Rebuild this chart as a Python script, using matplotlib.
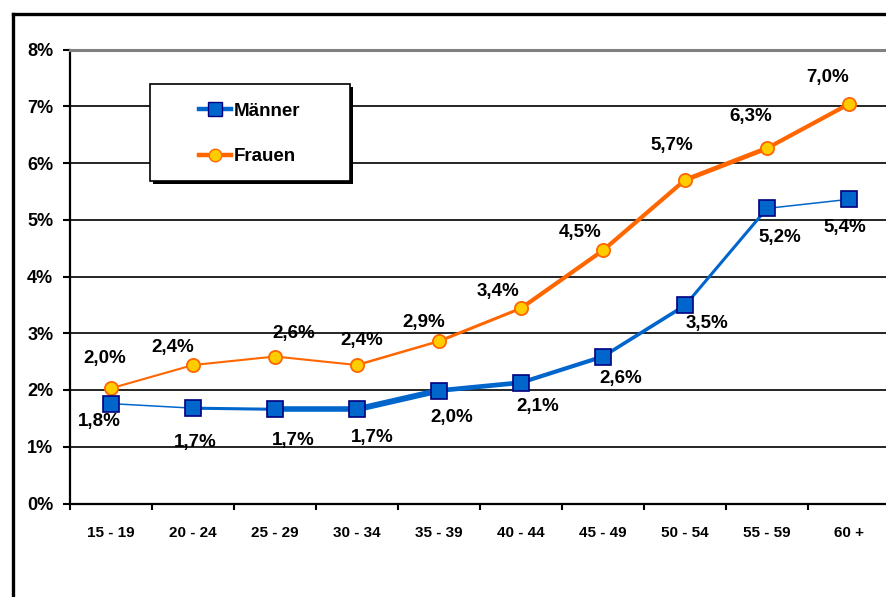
import matplotlib
matplotlib.use('Agg')
import matplotlib.pyplot as plt
from matplotlib.patches import Rectangle
from matplotlib.lines import Line2D

plt.rcParams['font.family'] = ['Liberation Sans', 'DejaVu Sans']
plt.rcParams['font.weight'] = 'bold'

# Altersgruppen und Anteile in %
age_groups = ['15 - 19', '20 - 24', '25 - 29', '30 - 34', '35 - 39',
              '40 - 44', '45 - 49', '50 - 54', '55 - 59', '60 +']
maenner = [1.76, 1.68, 1.66, 1.66, 1.99, 2.13, 2.59, 3.49, 5.20, 5.36]
frauen = [2.03, 2.44, 2.59, 2.44, 2.86, 3.44, 4.46, 5.70, 6.26, 7.04]
y_ticks = [0, 1, 2, 3, 4, 5, 6, 7, 8]

# style: segment widths (pt) like the original, label offsets (px)
lw_m = [1.1, 2.2, 4.0, 4.3, 3.4, 3.0, 2.6, 2.2, 1.1]
lw_f = [1.5, 1.5, 1.5, 1.8, 2.2, 3.0, 3.0, 3.4, 3.0]
off_m = [(-12, 18), (2, 34), (18, 31), (15, 28), (13, 27),
         (17, 24), (18, 22), (22, 18), (13, 29), (-4, 28)]
off_f = [(-6, -30), (-20, -18), (19, -23), (5, -25), (-15, -19),
         (-23, -17), (-23, -18), (-13, -35), (-16, -32), (-21, -26)]

blue, navy = '#0066CC', '#000080'
orange, yellow = '#FF6600', '#FFCC00'

W, H = 886, 597
fig = plt.figure(figsize=(W / 100, H / 100), dpi=100)
ax = fig.add_axes([70 / W, 1 - 503.5 / H, 820 / W, 454 / H])

x = list(range(len(age_groups)))

# lines segment by segment
for i in range(len(x) - 1):
    ax.plot(x[i:i + 2], frauen[i:i + 2], color=orange, lw=lw_f[i],
            solid_capstyle='round', zorder=3)
    ax.plot(x[i:i + 2], maenner[i:i + 2], color=blue, lw=lw_m[i],
            solid_capstyle='round', zorder=3)
ax.plot(x, frauen, ls='none', marker='o', ms=9.5, mfc=yellow, mec=orange,
        mew=1.3, zorder=4)
ax.plot(x, maenner, ls='none', marker='s', ms=11, mfc=blue, mec=navy,
        mew=1.2, zorder=4)

def fmt(v):
    return f'{v:.1f}'.replace('.', ',') + '%'

for i, v in enumerate(maenner):
    ax.annotate(fmt(v), (i, v), xytext=(off_m[i][0], -off_m[i][1]),
                textcoords='offset pixels', ha='center', va='center',
                fontsize=13.5, fontweight='bold', zorder=5)
for i, v in enumerate(frauen):
    ax.annotate(fmt(v), (i, v), xytext=(off_f[i][0], -off_f[i][1]),
                textcoords='offset pixels', ha='center', va='center',
                fontsize=13.5, fontweight='bold', zorder=5)

ax.set_xlim(-0.5, len(x) - 0.5)
ax.set_ylim(0, 8)
ax.set_yticks(y_ticks)
ax.set_yticklabels([f'{t}%' for t in y_ticks], fontsize=13, fontweight='bold')
ax.set_xticks(x)
ax.set_xticklabels(age_groups, fontsize=11, fontweight='bold')
ax.set_xticks([i - 0.5 for i in range(len(x) + 1)], minor=True)
ax.tick_params(axis='x', which='major', length=0, pad=16)
ax.tick_params(axis='x', which='minor', length=4, width=1.5, direction='out')
ax.tick_params(axis='y', length=5, width=1.5, pad=7)

ax.set_axisbelow(True)
ax.yaxis.grid(True, color='black', lw=1.2)
ax.spines['right'].set_visible(False)
ax.spines['top'].set_color('#808080')
ax.spines['top'].set_linewidth(2.2)
ax.spines['left'].set_linewidth(1.6)
ax.spines['bottom'].set_linewidth(1.6)

# legend box with shadow
lx, ly, lw_, lh = 150, 84, 200, 97
fig.add_artist(Rectangle(((lx + 3) / W, 1 - (ly + lh + 3) / H), lw_ / W, lh / H,
                         transform=fig.transFigure, facecolor='black',
                         edgecolor='none', zorder=6))
fig.add_artist(Rectangle((lx / W, 1 - (ly + lh) / H), lw_ / W, lh / H,
                         transform=fig.transFigure, facecolor='white',
                         edgecolor='black', lw=1.2, zorder=7))
handles = [Line2D([], [], color=blue, lw=3.2, marker='s', ms=10, mfc=blue, mec=navy),
           Line2D([], [], color=orange, lw=3.2, marker='o', ms=9, mfc=yellow, mec=orange)]
leg = fig.legend(handles, ['Männer', 'Frauen'], loc='center',
                 bbox_to_anchor=(250 / W, 1 - 134 / H), frameon=False,
                 prop={'size': 13.5, 'weight': 'bold'}, handlelength=1.7,
                 handletextpad=0.15, labelspacing=1.5, borderpad=0)
leg.set_zorder(8)

# outer frame (continues past the picture edge)
fig.add_artist(Line2D([12.5 / W, 1.01], [1 - 14 / H, 1 - 14 / H], color='black',
                      lw=2.4, transform=fig.transFigure))
fig.add_artist(Line2D([12.5 / W, 12.5 / W], [1 - 14 / H, -0.01], color='black',
                      lw=2.4, transform=fig.transFigure))

fig.savefig('out.png', dpi=100)
